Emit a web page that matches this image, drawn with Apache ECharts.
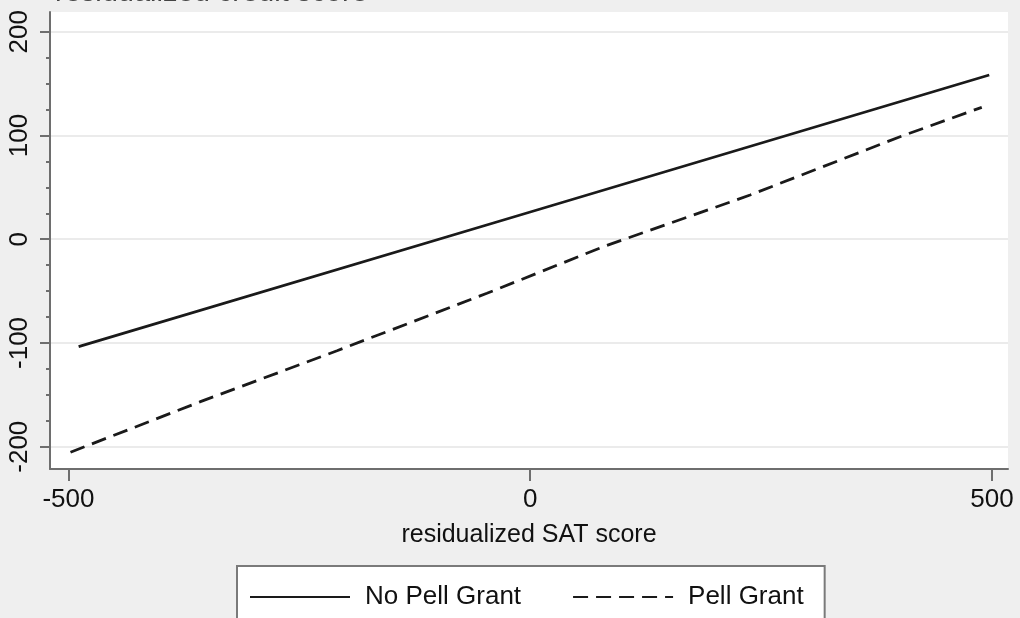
<!DOCTYPE html>
<html>
<head>
<meta charset="utf-8">
<script src="https://cdn.jsdelivr.net/npm/echarts@6/dist/echarts.min.js"></script>
<style>
html,body{margin:0;padding:0;background:#efefef;}
#chart{width:1020px;height:618px;}
</style>
</head>
<body>
<div id="chart"></div>
<script>
const titleText = 'residualized credit score';
const xAxisTitle = 'residualized SAT score';
const seriesNames = ['No Pell Grant', 'Pell Grant'];
const noPellX = [-489, 0, 497];
const noPellY = [-103.6, 26.2, 158.3];
const pellX = [-497.8, -357.1, -209.2, -46.9, 79.3, 238.1, 400.4, 488.9];
const pellY = [-205.3, -156.6, -107.5, -52.1, -7.2, 42.6, 98.8, 127.1];
const xTicks = [-500, 0, 500];
const yTicks = [-200, -100, 0, 100, 200];
const yMinorTicks = [-175, -150, -125, -75, -50, -25, 25, 50, 75, 125, 150, 175];

const FONT = '"Liberation Sans", Arial, Helvetica, sans-serif';
const chart = echarts.init(document.getElementById('chart'), null, {renderer: 'canvas'});
const zip = (xs, ys) => xs.map((x, i) => [x, ys[i]]);
const lineCol = '#1a1a1a';
const axisCol = '#6e6e6e';

chart.setOption({
  backgroundColor: '#efefef',
  animation: false,
  textStyle: {fontFamily: FONT},
  graphic: [{
    type: 'text', left: 55, top: -21.5,
    style: {text: titleText, font: '29px ' + FONT, fill: '#444'}
  }],
  grid: {left: 50, right: 12, top: 12, bottom: 149, show: true, backgroundColor: '#ffffff', borderWidth: 0, containLabel: false},
  legend: {
    left: 237, top: 566,
    orient: 'horizontal',
    backgroundColor: '#ffffff',
    borderColor: '#7a7a7a', borderWidth: 2, borderRadius: 0,
    padding: [18, 21, 14, 12],
    itemWidth: 100, itemHeight: 30, itemGap: 51,
    itemStyle: {opacity: 0},
    textStyle: {fontSize: 26, color: '#111', fontFamily: FONT, padding: [0, 0, 0, 10]},
    data: seriesNames
  },
  xAxis: {
    type: 'value', min: -520, max: 517.3,
    name: xAxisTitle, nameLocation: 'middle', nameGap: 54,
    nameTextStyle: {fontSize: 25, color: '#111', fontFamily: FONT},
    axisLine: {show: true, onZero: false, lineStyle: {color: axisCol, width: 2}},
    axisTick: {show: true, length: 12, lineStyle: {color: axisCol, width: 2}, customValues: xTicks},
    axisLabel: {fontSize: 26, color: '#111', margin: 18, customValues: xTicks, fontFamily: FONT},
    splitLine: {show: false}
  },
  yAxis: [{
    type: 'value', min: -221.5, max: 219,
    axisLine: {show: true, onZero: false, lineStyle: {color: axisCol, width: 2}},
    axisTick: {show: true, length: 10, lineStyle: {color: axisCol, width: 2}, customValues: yTicks},
    axisLabel: {fontSize: 26, color: '#111', margin: 17, rotate: 90, customValues: yTicks, fontFamily: FONT},
    splitLine: {show: true, lineStyle: {color: '#ebebeb', width: 2}}
  }, {
    type: 'value', min: -221.5, max: 219, position: 'left',
    axisLine: {show: false, onZero: false},
    axisTick: {show: true, length: 4, lineStyle: {color: axisCol, width: 2}, customValues: yMinorTicks},
    axisLabel: {show: false},
    splitLine: {show: false}
  }],
  series: [{
    name: seriesNames[0], type: 'line', data: zip(noPellX, noPellY),
    showSymbol: false, symbol: 'none', z: 3,
    lineStyle: {color: lineCol, width: 2.8, type: 'solid'},
    itemStyle: {color: lineCol}
  }, {
    name: seriesNames[1], type: 'line', data: zip(pellX, pellY),
    showSymbol: false, symbol: 'none', z: 3,
    lineStyle: {color: lineCol, width: 2.8, type: [15, 8]},
    itemStyle: {color: lineCol}
  }]
});
</script>
</body>
</html>
